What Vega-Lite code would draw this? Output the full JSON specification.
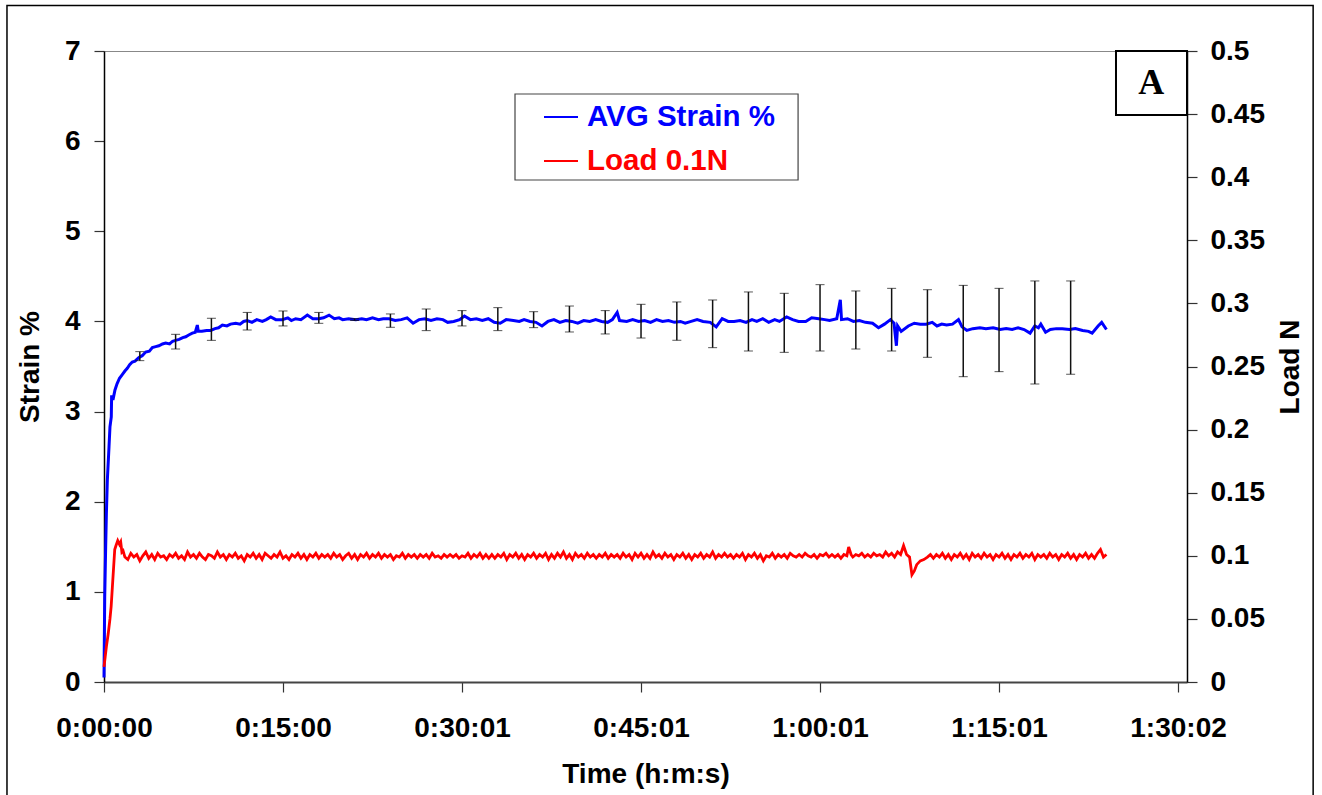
{
  "$schema": "https://vega.github.io/schema/vega-lite/v6.json",
  "width": 1083,
  "height": 631,
  "autosize": {"type": "none"},
  "padding": {"left": 104, "top": 51, "right": 135, "bottom": 113},
  "background": "white",
  "config": {
    "view": {"stroke": "#888888", "strokeWidth": 1},
    "font": "Liberation Sans",
    "axis": {
      "labelFont": "Liberation Sans", "labelFontSize": 28, "labelFontWeight": "bold", "labelColor": "black",
      "titleFont": "Liberation Sans", "titleFontSize": 28, "titleFontWeight": "bold", "titleColor": "black",
      "domainColor": "black", "domainWidth": 1.5, "tickColor": "#333333", "tickWidth": 1.2, "tickSize": 10, "grid": false,
      "labelFlush": false, "labelOverlap": false
    },
    "legend": {
      "orient": "none", "legendX": 411, "legendY": 43, "title": null,
      "symbolType": "stroke", "symbolSize": 1156, "symbolStrokeWidth": 2,
      "labelFont": "Liberation Sans", "labelFontSize": 29.5, "labelFontWeight": "bold", "labelLimit": 500,
      "labelOffset": 8, "padding": 5, "rowPadding": 11, "symbolOffset": 23
    }
  },
  "datasets": {
    "strain": [
      {"t":0,"s":0.05},{"t":0.06,"s":0.95},{"t":0.14,"s":1.5},{"t":0.2,"s":1.87},{"t":0.28,"s":2.24},{"t":0.42,"s":2.61},{"t":0.5,"s":2.83},{"t":0.61,"s":2.94},{"t":0.64,"s":3.18},{"t":0.75,"s":3.13},{"t":0.92,"s":3.24},{"t":1.1,"s":3.31},{"t":1.3,"s":3.37},{"t":1.53,"s":3.41},{"t":1.75,"s":3.45},{"t":1.95,"s":3.48},{"t":2.15,"s":3.52},{"t":2.37,"s":3.55},{"t":2.6,"s":3.56},{"t":2.93,"s":3.6},{"t":3.2,"s":3.62},{"t":3.49,"s":3.66},{"t":3.8,"s":3.67},{"t":4.05,"s":3.71},{"t":4.33,"s":3.72},{"t":4.6,"s":3.73},{"t":4.9,"s":3.75},{"t":5.17,"s":3.76},{"t":5.5,"s":3.75},{"t":5.75,"s":3.78},{"t":6.0,"s":3.79},{"t":6.3,"s":3.8},{"t":6.6,"s":3.82},{"t":6.85,"s":3.83},{"t":7.1,"s":3.85},{"t":7.4,"s":3.87},{"t":7.65,"s":3.88},{"t":7.82,"s":3.96},{"t":7.9,"s":3.89},{"t":8.2,"s":3.89},{"t":8.6,"s":3.9},{"t":8.94,"s":3.9},{"t":9.3,"s":3.92},{"t":9.6,"s":3.93},{"t":9.92,"s":3.96},{"t":10.3,"s":3.95},{"t":10.6,"s":3.97},{"t":11.04,"s":3.98},{"t":11.4,"s":3.97},{"t":11.7,"s":4.0},{"t":12.0,"s":4.01},{"t":12.4,"s":3.99},{"t":12.8,"s":4.02},{"t":13.27,"s":4.0},{"t":13.6,"s":4.02},{"t":13.97,"s":4.05},{"t":14.4,"s":4.02},{"t":14.94,"s":4.02},{"t":15.4,"s":4.04},{"t":15.7,"s":4.01},{"t":16.06,"s":4.03},{"t":16.5,"s":4.02},{"t":17.04,"s":4.07},{"t":17.5,"s":4.03},{"t":18.0,"s":4.03},{"t":18.4,"s":4.04},{"t":18.86,"s":4.07},{"t":19.3,"s":4.03},{"t":19.7,"s":4.04},{"t":20.0,"s":4.02},{"t":20.5,"s":4.03},{"t":21.1,"s":4.02},{"t":21.6,"s":4.03},{"t":22.0,"s":4.02},{"t":22.5,"s":4.04},{"t":23.0,"s":4.02},{"t":23.4,"s":4.03},{"t":23.9,"s":4.03},{"t":24.4,"s":4.01},{"t":24.9,"s":4.02},{"t":25.4,"s":4.04},{"t":25.9,"s":3.98},{"t":26.4,"s":4.02},{"t":26.9,"s":4.03},{"t":27.4,"s":4.01},{"t":27.9,"s":4.03},{"t":28.4,"s":4.02},{"t":28.8,"s":3.99},{"t":29.3,"s":4.0},{"t":29.8,"s":4.02},{"t":30.2,"s":4.06},{"t":30.7,"s":4.02},{"t":31.2,"s":4.03},{"t":31.7,"s":4.01},{"t":32.2,"s":4.03},{"t":32.7,"s":3.99},{"t":33.2,"s":3.98},{"t":33.7,"s":4.02},{"t":34.3,"s":4.01},{"t":34.8,"s":4.0},{"t":35.2,"s":4.02},{"t":35.7,"s":4.0},{"t":36.2,"s":3.99},{"t":36.7,"s":3.95},{"t":37.2,"s":4.0},{"t":37.7,"s":4.02},{"t":38.2,"s":3.99},{"t":38.7,"s":4.01},{"t":39.2,"s":4.0},{"t":39.7,"s":3.98},{"t":40.2,"s":4.01},{"t":40.7,"s":4.0},{"t":41.2,"s":4.02},{"t":41.7,"s":4.0},{"t":42.2,"s":3.99},{"t":42.6,"s":4.02},{"t":43.0,"s":4.1},{"t":43.2,"s":4.01},{"t":43.8,"s":4.0},{"t":44.3,"s":4.02},{"t":44.8,"s":4.0},{"t":45.3,"s":4.01},{"t":45.8,"s":3.99},{"t":46.3,"s":4.02},{"t":46.8,"s":4.0},{"t":47.3,"s":4.01},{"t":47.8,"s":3.99},{"t":48.3,"s":4.0},{"t":48.7,"s":3.98},{"t":49.2,"s":4.0},{"t":49.7,"s":4.02},{"t":50.2,"s":4.0},{"t":50.8,"s":3.99},{"t":51.3,"s":3.94},{"t":51.8,"s":4.03},{"t":52.3,"s":4.0},{"t":52.8,"s":4.0},{"t":53.3,"s":4.01},{"t":53.8,"s":3.99},{"t":54.3,"s":4.02},{"t":54.7,"s":4.0},{"t":55.2,"s":4.03},{"t":55.7,"s":3.99},{"t":56.2,"s":4.02},{"t":56.6,"s":4.0},{"t":57.2,"s":4.05},{"t":57.7,"s":4.02},{"t":58.2,"s":4.0},{"t":58.8,"s":4.0},{"t":59.3,"s":4.04},{"t":59.9,"s":4.03},{"t":60.4,"s":4.02},{"t":60.8,"s":4.01},{"t":61.4,"s":4.03},{"t":61.7,"s":4.24},{"t":61.8,"s":4.02},{"t":62.3,"s":4.03},{"t":62.8,"s":4.0},{"t":63.3,"s":4.01},{"t":63.8,"s":3.99},{"t":64.4,"s":3.98},{"t":64.9,"s":3.93},{"t":65.4,"s":3.97},{"t":65.9,"s":4.02},{"t":66.2,"s":3.98},{"t":66.4,"s":3.73},{"t":66.5,"s":3.95},{"t":66.8,"s":3.89},{"t":67.4,"s":3.95},{"t":67.9,"s":3.98},{"t":68.4,"s":3.97},{"t":68.9,"s":3.97},{"t":69.4,"s":3.99},{"t":69.8,"s":3.95},{"t":70.2,"s":3.97},{"t":70.6,"s":3.96},{"t":71.1,"s":3.97},{"t":71.6,"s":4.02},{"t":71.9,"s":3.94},{"t":72.3,"s":3.9},{"t":72.8,"s":3.92},{"t":73.4,"s":3.93},{"t":73.9,"s":3.92},{"t":74.5,"s":3.93},{"t":75.1,"s":3.91},{"t":75.6,"s":3.92},{"t":76.1,"s":3.91},{"t":76.6,"s":3.93},{"t":77.1,"s":3.91},{"t":77.6,"s":3.87},{"t":78.0,"s":3.95},{"t":78.3,"s":3.93},{"t":78.5,"s":3.97},{"t":78.9,"s":3.88},{"t":79.3,"s":3.91},{"t":79.8,"s":3.92},{"t":80.3,"s":3.92},{"t":80.9,"s":3.91},{"t":81.4,"s":3.92},{"t":82.0,"s":3.9},{"t":82.5,"s":3.89},{"t":82.8,"s":3.87},{"t":83.3,"s":3.95},{"t":83.6,"s":3.99},{"t":84.0,"s":3.91}
    ],
    "load": [
      {"t":0,"v":0.012},{"t":0.1,"v":0.02},{"t":0.2,"v":0.028},{"t":0.35,"v":0.038},{"t":0.5,"v":0.05},{"t":0.6,"v":0.06},{"t":0.7,"v":0.075},{"t":0.8,"v":0.09},{"t":0.9,"v":0.105},{"t":1.0,"v":0.108},{"t":1.15,"v":0.112},{"t":1.3,"v":0.109},{"t":1.4,"v":0.111},{"t":1.5,"v":0.103},{"t":1.6,"v":0.104},{"t":1.75,"v":0.099},
      {"t":2.0,"v":0.097},{"t":2.25,"v":0.102},{"t":2.5,"v":0.099},{"t":2.75,"v":0.101},{"t":3.0,"v":0.096},{"t":3.25,"v":0.1},{"t":3.5,"v":0.103},{"t":3.75,"v":0.098},{"t":4.0,"v":0.101},{"t":4.25,"v":0.097},{"t":4.5,"v":0.102},{"t":4.75,"v":0.099},{"t":5.0,"v":0.1},{"t":5.25,"v":0.097},{"t":5.5,"v":0.101},{"t":5.75,"v":0.099},{"t":6.0,"v":0.102},{"t":6.25,"v":0.098},{"t":6.5,"v":0.1},{"t":6.75,"v":0.097},{"t":7.0,"v":0.103},{"t":7.25,"v":0.099},{"t":7.5,"v":0.101},{"t":7.75,"v":0.098},{"t":8.0,"v":0.102},{"t":8.25,"v":0.099},{"t":8.5,"v":0.097},{"t":8.75,"v":0.101},{"t":9.0,"v":0.1},{"t":9.25,"v":0.098},{"t":9.5,"v":0.103},{"t":9.75,"v":0.099},
      {"t":10.0,"v":0.101},{"t":10.25,"v":0.097},{"t":10.5,"v":0.101},{"t":10.75,"v":0.099},{"t":11.0,"v":0.102},{"t":11.25,"v":0.098},{"t":11.5,"v":0.1},{"t":11.75,"v":0.096},{"t":12.0,"v":0.101},{"t":12.25,"v":0.099},{"t":12.5,"v":0.102},{"t":12.75,"v":0.098},{"t":13.0,"v":0.101},{"t":13.25,"v":0.097},{"t":13.5,"v":0.102},{"t":13.75,"v":0.1},{"t":14.0,"v":0.098},{"t":14.25,"v":0.101},{"t":14.5,"v":0.099},{"t":14.75,"v":0.103},{"t":15.0,"v":0.098},{"t":15.25,"v":0.1},{"t":15.5,"v":0.097},{"t":15.75,"v":0.101},{"t":16.0,"v":0.099},{"t":16.25,"v":0.102},{"t":16.5,"v":0.098},{"t":16.75,"v":0.101},{"t":17.0,"v":0.097},{"t":17.25,"v":0.101},{"t":17.5,"v":0.099},{"t":17.75,"v":0.102},{"t":18.0,"v":0.098},{"t":18.25,"v":0.101},{"t":18.5,"v":0.099},{"t":18.75,"v":0.101},{"t":19.0,"v":0.098},{"t":19.25,"v":0.102},{"t":19.5,"v":0.099},{"t":19.75,"v":0.101},
      {"t":20.0,"v":0.097},{"t":20.25,"v":0.1},{"t":20.5,"v":0.102},{"t":20.75,"v":0.098},{"t":21.0,"v":0.101},{"t":21.25,"v":0.097},{"t":21.5,"v":0.101},{"t":21.75,"v":0.099},{"t":22.0,"v":0.102},{"t":22.25,"v":0.098},{"t":22.5,"v":0.101},{"t":22.75,"v":0.099},{"t":23.0,"v":0.102},{"t":23.25,"v":0.098},{"t":23.5,"v":0.101},{"t":23.75,"v":0.099},{"t":24.0,"v":0.101},{"t":24.25,"v":0.097},{"t":24.5,"v":0.1},{"t":24.75,"v":0.099},{"t":25.0,"v":0.102},{"t":25.25,"v":0.098},{"t":25.5,"v":0.101},{"t":25.75,"v":0.099},{"t":26.0,"v":0.101},{"t":26.25,"v":0.098},{"t":26.5,"v":0.101},{"t":26.75,"v":0.099},{"t":27.0,"v":0.101},{"t":27.25,"v":0.098},{"t":27.5,"v":0.102},{"t":27.75,"v":0.099},{"t":28.0,"v":0.1},{"t":28.25,"v":0.098},{"t":28.5,"v":0.101},{"t":28.75,"v":0.099},{"t":29.0,"v":0.101},{"t":29.25,"v":0.099},{"t":29.5,"v":0.101},{"t":29.75,"v":0.098},
      {"t":30.0,"v":0.1},{"t":30.25,"v":0.099},{"t":30.5,"v":0.102},{"t":30.75,"v":0.098},{"t":31.0,"v":0.101},{"t":31.25,"v":0.099},{"t":31.5,"v":0.102},{"t":31.75,"v":0.098},{"t":32.0,"v":0.101},{"t":32.25,"v":0.098},{"t":32.5,"v":0.101},{"t":32.75,"v":0.098},{"t":33.0,"v":0.101},{"t":33.25,"v":0.099},{"t":33.5,"v":0.102},{"t":33.75,"v":0.097},{"t":34.0,"v":0.101},{"t":34.25,"v":0.099},{"t":34.5,"v":0.102},{"t":34.75,"v":0.098},{"t":35.0,"v":0.101},{"t":35.25,"v":0.097},{"t":35.5,"v":0.101},{"t":35.75,"v":0.099},{"t":36.0,"v":0.102},{"t":36.25,"v":0.098},{"t":36.5,"v":0.101},{"t":36.75,"v":0.099},{"t":37.0,"v":0.102},{"t":37.25,"v":0.097},{"t":37.5,"v":0.101},{"t":37.75,"v":0.098},{"t":38.0,"v":0.102},{"t":38.25,"v":0.099},{"t":38.5,"v":0.103},{"t":38.75,"v":0.098},{"t":39.0,"v":0.101},{"t":39.25,"v":0.097},{"t":39.5,"v":0.102},{"t":39.75,"v":0.099},
      {"t":40.0,"v":0.101},{"t":40.25,"v":0.098},{"t":40.5,"v":0.102},{"t":40.75,"v":0.099},{"t":41.0,"v":0.101},{"t":41.25,"v":0.098},{"t":41.5,"v":0.101},{"t":41.75,"v":0.099},{"t":42.0,"v":0.102},{"t":42.25,"v":0.098},{"t":42.5,"v":0.101},{"t":42.75,"v":0.099},{"t":43.0,"v":0.101},{"t":43.25,"v":0.098},{"t":43.5,"v":0.102},{"t":43.75,"v":0.099},{"t":44.0,"v":0.101},{"t":44.25,"v":0.097},{"t":44.5,"v":0.102},{"t":44.75,"v":0.099},{"t":45.0,"v":0.102},{"t":45.25,"v":0.098},{"t":45.5,"v":0.101},{"t":45.75,"v":0.098},{"t":46.0,"v":0.103},{"t":46.25,"v":0.099},{"t":46.5,"v":0.101},{"t":46.75,"v":0.098},{"t":47.0,"v":0.102},{"t":47.25,"v":0.099},{"t":47.5,"v":0.101},{"t":47.75,"v":0.097},{"t":48.0,"v":0.101},{"t":48.25,"v":0.099},{"t":48.5,"v":0.102},{"t":48.75,"v":0.098},{"t":49.0,"v":0.101},{"t":49.25,"v":0.097},{"t":49.5,"v":0.101},{"t":49.75,"v":0.099},
      {"t":50.0,"v":0.102},{"t":50.25,"v":0.098},{"t":50.5,"v":0.101},{"t":50.75,"v":0.099},{"t":51.0,"v":0.103},{"t":51.25,"v":0.098},{"t":51.5,"v":0.101},{"t":51.75,"v":0.099},{"t":52.0,"v":0.102},{"t":52.25,"v":0.099},{"t":52.5,"v":0.101},{"t":52.75,"v":0.098},{"t":53.0,"v":0.101},{"t":53.25,"v":0.099},{"t":53.5,"v":0.102},{"t":53.75,"v":0.097},{"t":54.0,"v":0.101},{"t":54.25,"v":0.099},{"t":54.5,"v":0.102},{"t":54.75,"v":0.098},{"t":55.0,"v":0.101},{"t":55.25,"v":0.096},{"t":55.5,"v":0.1},{"t":55.75,"v":0.099},{"t":56.0,"v":0.102},{"t":56.25,"v":0.098},{"t":56.5,"v":0.101},{"t":56.75,"v":0.099},{"t":57.0,"v":0.101},{"t":57.25,"v":0.098},{"t":57.5,"v":0.102},{"t":57.75,"v":0.1},{"t":58.0,"v":0.099},{"t":58.25,"v":0.101},{"t":58.5,"v":0.099},{"t":58.75,"v":0.102},{"t":59.0,"v":0.1},{"t":59.25,"v":0.099},{"t":59.5,"v":0.101},{"t":59.75,"v":0.098},
      {"t":60.0,"v":0.101},{"t":60.25,"v":0.1},{"t":60.5,"v":0.102},{"t":60.75,"v":0.099},{"t":61.0,"v":0.101},{"t":61.25,"v":0.099},{"t":61.5,"v":0.101},{"t":61.75,"v":0.098},{"t":62.0,"v":0.101},{"t":62.25,"v":0.1},{"t":62.4,"v":0.107},{"t":62.6,"v":0.101},{"t":62.75,"v":0.099},{"t":63.0,"v":0.101},{"t":63.25,"v":0.1},{"t":63.5,"v":0.102},{"t":63.75,"v":0.099},{"t":64.0,"v":0.101},{"t":64.25,"v":0.099},{"t":64.5,"v":0.102},{"t":64.75,"v":0.1},{"t":65.0,"v":0.101},{"t":65.25,"v":0.099},{"t":65.5,"v":0.103},{"t":65.75,"v":0.1},{"t":66.0,"v":0.102},{"t":66.25,"v":0.099},{"t":66.5,"v":0.103},{"t":66.75,"v":0.101},{"t":67.0,"v":0.108},{"t":67.25,"v":0.101},{"t":67.5,"v":0.099},{"t":67.7,"v":0.085},{"t":67.9,"v":0.088},{"t":68.1,"v":0.093},{"t":68.4,"v":0.096},{"t":68.7,"v":0.097},{"t":69.0,"v":0.099},{"t":69.25,"v":0.101},{"t":69.5,"v":0.098},{"t":69.75,"v":0.101},
      {"t":70.0,"v":0.099},{"t":70.25,"v":0.102},{"t":70.5,"v":0.098},{"t":70.75,"v":0.101},{"t":71.0,"v":0.097},{"t":71.25,"v":0.101},{"t":71.5,"v":0.099},{"t":71.75,"v":0.102},{"t":72.0,"v":0.098},{"t":72.25,"v":0.101},{"t":72.5,"v":0.097},{"t":72.75,"v":0.102},{"t":73.0,"v":0.099},{"t":73.25,"v":0.101},{"t":73.5,"v":0.098},{"t":73.75,"v":0.102},{"t":74.0,"v":0.099},{"t":74.25,"v":0.101},{"t":74.5,"v":0.097},{"t":74.75,"v":0.101},{"t":75.0,"v":0.099},{"t":75.25,"v":0.102},{"t":75.5,"v":0.098},{"t":75.75,"v":0.101},{"t":76.0,"v":0.097},{"t":76.25,"v":0.101},{"t":76.5,"v":0.099},{"t":76.75,"v":0.102},{"t":77.0,"v":0.098},{"t":77.25,"v":0.101},{"t":77.5,"v":0.099},{"t":77.75,"v":0.102},{"t":78.0,"v":0.097},{"t":78.25,"v":0.101},{"t":78.5,"v":0.099},{"t":78.75,"v":0.101},{"t":79.0,"v":0.098},{"t":79.25,"v":0.102},{"t":79.5,"v":0.099},{"t":79.75,"v":0.101},
      {"t":80.0,"v":0.097},{"t":80.25,"v":0.101},{"t":80.5,"v":0.099},{"t":80.75,"v":0.102},{"t":81.0,"v":0.098},{"t":81.25,"v":0.101},{"t":81.5,"v":0.097},{"t":81.75,"v":0.101},{"t":82.0,"v":0.099},{"t":82.25,"v":0.102},{"t":82.5,"v":0.098},{"t":82.75,"v":0.101},{"t":83.0,"v":0.098},{"t":83.25,"v":0.102},{"t":83.5,"v":0.105},{"t":83.75,"v":0.099},{"t":84.0,"v":0.101}
    ],
    "err": [
      {"t":3,"lo":3.565,"hi":3.665},{"t":6,"lo":3.694,"hi":3.857},{"t":9,"lo":3.79,"hi":4.035},{"t":12,"lo":3.905,"hi":4.1},{"t":15,"lo":3.95,"hi":4.116},{"t":18,"lo":3.979,"hi":4.1},{"t":21,"lo":4.01,"hi":4.03},{"t":24,"lo":3.935,"hi":4.083},{"t":27,"lo":3.898,"hi":4.138},{"t":30,"lo":3.95,"hi":4.12},{"t":33,"lo":3.898,"hi":4.153},{"t":36,"lo":3.931,"hi":4.108},{"t":39,"lo":3.883,"hi":4.171},{"t":42,"lo":3.861,"hi":4.12},{"t":45,"lo":3.816,"hi":4.19},{"t":48,"lo":3.791,"hi":4.216},{"t":51,"lo":3.709,"hi":4.238},{"t":54,"lo":3.672,"hi":4.327},{"t":57,"lo":3.657,"hi":4.312},{"t":60,"lo":3.672,"hi":4.408},{"t":63,"lo":3.694,"hi":4.338},{"t":66,"lo":3.672,"hi":4.367},{"t":69,"lo":3.602,"hi":4.352},{"t":72,"lo":3.387,"hi":4.4},{"t":75,"lo":3.443,"hi":4.367},{"t":78,"lo":3.306,"hi":4.449},{"t":81,"lo":3.414,"hi":4.449}
    ]
  },
  "layer": [
    {
      "layer": [
        {
          "data": {"values": [{"k": 1}]},
          "mark": {"type": "rect", "fill": "white", "stroke": "#444444", "strokeWidth": 1.2},
          "encoding": {
            "x": {"datum": 34.44, "type": "quantitative", "scale": {"domain": [0, 90.75], "nice": false, "zero": false},
              "axis": {"title": "Time (h:m:s)", "values": [0, 15, 30, 45, 60, 75, 90], "labelPadding": 22, "titlePadding": 18, "domainColor": "#444444", "domainWidth": 2,
                "labelExpr": "['0:00:00','0:15:00','0:30:01','0:45:01','1:00:01','1:15:01','1:30:02'][round(datum.value/15)]"}},
            "x2": {"datum": 58.16},
            "y": {"datum": 6.523, "type": "quantitative", "scale": {"domain": [0, 7], "nice": false},
              "axis": {"title": "Strain %", "values": [0, 1, 2, 3, 4, 5, 6, 7], "format": "d", "labelPadding": 14, "titlePadding": 20}},
            "y2": {"datum": 5.569}
          }
        },
        {
          "data": {"name": "strain"},
          "mark": {"type": "line", "strokeWidth": 3, "interpolate": "linear"},
          "encoding": {
            "x": {"field": "t", "type": "quantitative", "title": "Time (h:m:s)"},
            "y": {"field": "s", "type": "quantitative", "title": "Strain %"},
            "color": {"datum": "AVG Strain %", "type": "nominal",
              "scale": {"domain": ["AVG Strain %", "Load 0.1N"], "range": ["#0000ff", "#ff0000"]},
              "legend": {"labelColor": {"expr": "datum.value === 'Load 0.1N' ? '#ff0000' : '#0000ff'"}}}
          }
        },
        {
          "data": {"name": "err"},
          "mark": {"type": "errorbar", "color": "#111111", "ticks": {"size": 9, "strokeWidth": 1.5, "color": "#111111"}, "rule": {"strokeWidth": 1.5, "color": "#111111"}},
          "encoding": {
            "x": {"field": "t", "type": "quantitative", "title": "Time (h:m:s)"},
            "y": {"field": "lo", "type": "quantitative", "title": "Strain %"},
            "y2": {"field": "hi"}
          }
        },
        {
          "data": {"values": [{"k": 1}]},
          "mark": {"type": "rect", "fill": "white", "stroke": "black", "strokeWidth": 2},
          "encoding": {
            "x": {"datum": 84.8, "type": "quantitative"},
            "x2": {"datum": 90.75},
            "y": {"datum": 6.29, "type": "quantitative"},
            "y2": {"datum": 7}
          }
        },
        {
          "data": {"values": [{"k": 1}]},
          "mark": {"type": "text", "text": "A", "font": "Liberation Serif", "fontWeight": "bold", "fontSize": 36, "align": "center", "baseline": "middle", "color": "black"},
          "encoding": {
            "x": {"datum": 87.75, "type": "quantitative"},
            "y": {"datum": 6.645, "type": "quantitative"}
          }
        },
        {
          "data": {"values": [{"k": 1}]},
          "mark": {"type": "rect", "filled": false, "stroke": "black", "strokeWidth": 1.5},
          "encoding": {
            "x": {"datum": -8.13, "type": "quantitative"},
            "x2": {"datum": 101.32},
            "y": {"datum": 7.505, "type": "quantitative"},
            "y2": {"datum": -1.45}
          }
        }
      ]
    },
    {
      "data": {"name": "load"},
      "mark": {"type": "line", "strokeWidth": 2.8, "interpolate": "linear"},
      "encoding": {
        "x": {"field": "t", "type": "quantitative", "title": "Time (h:m:s)"},
        "y": {"field": "v", "type": "quantitative", "scale": {"domain": [0, 0.5], "nice": false},
          "axis": {"orient": "right", "title": "Load N", "titleAngle": 270, "titleBaseline": "top", "values": [0, 0.05, 0.1, 0.15, 0.2, 0.25, 0.3, 0.35, 0.4, 0.45, 0.5], "format": ".2~f", "labelPadding": 13, "titlePadding": 12}},
        "color": {"datum": "Load 0.1N", "type": "nominal"}
      }
    }
  ],
  "resolve": {"scale": {"y": "independent"}}
}
